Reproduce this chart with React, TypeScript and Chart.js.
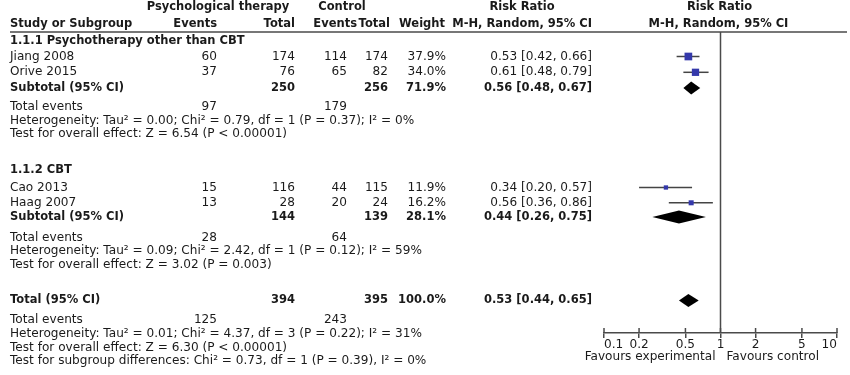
import { useEffect, useRef } from 'react';
import { Chart, registerables } from 'chart.js';

Chart.register(...registerables);

// ---------- data ----------
const studies = ['Jiang 2008', 'Orive 2015', 'Cao 2013', 'Haag 2007'];
const expEvents = [60, 37, 15, 13];
const expTotal = [174, 76, 116, 28];
const ctrlEvents = [114, 65, 44, 20];
const ctrlTotal = [174, 82, 115, 24];
const weights = [37.9, 34.0, 11.9, 16.2];
const rr = [0.53, 0.61, 0.34, 0.56];
const ciLow = [0.42, 0.48, 0.2, 0.36];
const ciHigh = [0.66, 0.79, 0.57, 0.86];

const groupNames = ['1.1.1 Psychotherapy other than CBT', '1.1.2 CBT'];
const groupExpTotal = [250, 144];
const groupCtrlTotal = [256, 139];
const groupWeight = [71.9, 28.1];
const groupRR = [0.56, 0.44];
const groupLow = [0.48, 0.26];
const groupHigh = [0.67, 0.75];
const groupExpEvents = [97, 28];
const groupCtrlEvents = [179, 64];
const groupHet = [
  'Heterogeneity: Tau² = 0.00; Chi² = 0.79, df = 1 (P = 0.37); I² = 0%',
  'Heterogeneity: Tau² = 0.09; Chi² = 2.42, df = 1 (P = 0.12); I² = 59%',
];
const groupTest = [
  'Test for overall effect: Z = 6.54 (P < 0.00001)',
  'Test for overall effect: Z = 3.02 (P = 0.003)',
];

const totalExpTotal = 394;
const totalCtrlTotal = 395;
const totalWeight = 100.0;
const totalRR = 0.53;
const totalLow = 0.44;
const totalHigh = 0.65;
const totalExpEvents = 125;
const totalCtrlEvents = 243;
const totalHet = 'Heterogeneity: Tau² = 0.01; Chi² = 4.37, df = 3 (P = 0.22); I² = 31%';
const totalTest = 'Test for overall effect: Z = 6.30 (P < 0.00001)';
const subgroupTest = 'Test for subgroup differences: Chi² = 0.73, df = 1 (P = 0.39), I² = 0%';

const tickValues = [0.1, 0.2, 0.5, 1, 2, 5, 10];
const tickLabels = ['0.1', '0.2', '0.5', '1', '2', '5', '10'];

// ---------- layout (rows in px below header rule) ----------
const ROW = {
  header1: -25,
  header2: -8,
  heading: [9, 138],
  study: [24.5, 40.3, 155.5, 170.8],
  subtotal: [56, 185],
  events: [74.7, 205.7],
  het: [88.5, 218.8],
  test: [102, 233],
  total: 268.5,
  totalEvents: 288,
  totalHet: 302,
  totalTest: 316,
  subgroup: 329,
};
const COL = { label: 10, expEv: 217, expTot: 295, ctlEv: 347, ctlTot: 388, weight: 446, ci: 592 };
const FONT_FAMILY = '"DejaVu Sans", sans-serif';
const FS = 12.1;
const FSB = 11.5;
const NORMAL = `${FS}px ${FONT_FAMILY}`;
const BOLD = `bold ${FSB}px ${FONT_FAMILY}`;
const TEXT = '#1a1a1a';
const LINE = '#4a4a4a';
const SQUARE = '#3438aa';
const DIAMOND_HALF = 6.5;

const fmtCI = (r: number, l: number, h: number) => `${r.toFixed(2)} [${l.toFixed(2)}, ${h.toFixed(2)}]`;
const fmtW = (w: number) => `${w.toFixed(1)}%`;

const forestPlugin = {
  id: 'forest',
  afterDraw(chart: any) {
    const { ctx, chartArea, scales } = chart;
    const x = scales.x;
    const y = scales.y;
    const py = (v: number) => y.getPixelForValue(v);
    const text = (s: string, px: number, v: number, align: CanvasTextAlign, bold = false) => {
      ctx.font = bold ? BOLD : NORMAL;
      ctx.textAlign = align;
      ctx.fillStyle = TEXT;
      ctx.textBaseline = 'middle';
      ctx.fillText(s, px, py(v));
    };
    ctx.save();

    // header rule
    ctx.strokeStyle = LINE;
    ctx.lineWidth = 1.5;
    ctx.beginPath();
    ctx.moveTo(10, chartArea.top);
    ctx.lineTo(847, chartArea.top);
    ctx.stroke();

    // null line
    const x1 = x.getPixelForValue(1);
    ctx.beginPath();
    ctx.moveTo(x1, chartArea.top);
    ctx.lineTo(x1, chartArea.bottom);
    ctx.stroke();

    // upper halves of tick marks
    x.ticks.forEach((t: any) => {
      const tx = x.getPixelForValue(t.value);
      ctx.beginPath();
      ctx.moveTo(tx, chartArea.bottom - 5);
      ctx.lineTo(tx, chartArea.bottom);
      ctx.stroke();
    });

    // headers
    text('Psychological therapy', 218, ROW.header1, 'center', true);
    text('Control', 342, ROW.header1, 'center', true);
    text('Risk Ratio', 522, ROW.header1, 'center', true);
    text('Risk Ratio', x1 - 1, ROW.header1, 'center', true);
    text('Study or Subgroup', COL.label, ROW.header2, 'left', true);
    text('Events', COL.expEv, ROW.header2, 'right', true);
    text('Total', COL.expTot, ROW.header2, 'right', true);
    text('Events', 357, ROW.header2, 'right', true);
    text('Total', 390, ROW.header2, 'right', true);
    text('Weight', 445, ROW.header2, 'right', true);
    text('M-H, Random, 95% CI', COL.ci, ROW.header2, 'right', true);
    text('M-H, Random, 95% CI', x1 - 2, ROW.header2, 'center', true);

    // study rows
    studies.forEach((s, i) => {
      const v = ROW.study[i];
      text(s, COL.label, v, 'left');
      text(String(expEvents[i]), COL.expEv, v, 'right');
      text(String(expTotal[i]), COL.expTot, v, 'right');
      text(String(ctrlEvents[i]), COL.ctlEv, v, 'right');
      text(String(ctrlTotal[i]), COL.ctlTot, v, 'right');
      text(fmtW(weights[i]), COL.weight, v, 'right');
      text(fmtCI(rr[i], ciLow[i], ciHigh[i]), COL.ci, v, 'right');
    });

    const diamond = (r: number, l: number, h: number, v: number) => {
      const cy = py(v);
      ctx.fillStyle = '#000';
      ctx.beginPath();
      ctx.moveTo(x.getPixelForValue(l), cy);
      ctx.lineTo(x.getPixelForValue(r), cy - DIAMOND_HALF);
      ctx.lineTo(x.getPixelForValue(h), cy);
      ctx.lineTo(x.getPixelForValue(r), cy + DIAMOND_HALF);
      ctx.closePath();
      ctx.fill();
    };

    // subgroups
    groupNames.forEach((g, i) => {
      text(g, COL.label, ROW.heading[i], 'left', true);
      const v = ROW.subtotal[i];
      text('Subtotal (95% CI)', COL.label, v, 'left', true);
      text(String(groupExpTotal[i]), COL.expTot, v, 'right', true);
      text(String(groupCtrlTotal[i]), COL.ctlTot, v, 'right', true);
      text(fmtW(groupWeight[i]), COL.weight, v, 'right', true);
      text(fmtCI(groupRR[i], groupLow[i], groupHigh[i]), COL.ci, v, 'right', true);
      diamond(groupRR[i], groupLow[i], groupHigh[i], v);
      text('Total events', COL.label, ROW.events[i], 'left');
      text(String(groupExpEvents[i]), COL.expEv, ROW.events[i], 'right');
      text(String(groupCtrlEvents[i]), COL.ctlEv, ROW.events[i], 'right');
      text(groupHet[i], COL.label, ROW.het[i], 'left');
      text(groupTest[i], COL.label, ROW.test[i], 'left');
    });

    // total
    text('Total (95% CI)', COL.label, ROW.total, 'left', true);
    text(String(totalExpTotal), COL.expTot, ROW.total, 'right', true);
    text(String(totalCtrlTotal), COL.ctlTot, ROW.total, 'right', true);
    text(fmtW(totalWeight), COL.weight, ROW.total, 'right', true);
    text(fmtCI(totalRR, totalLow, totalHigh), COL.ci, ROW.total, 'right', true);
    diamond(totalRR, totalLow, totalHigh, ROW.total);
    text('Total events', COL.label, ROW.totalEvents, 'left');
    text(String(totalExpEvents), COL.expEv, ROW.totalEvents, 'right');
    text(String(totalCtrlEvents), COL.ctlEv, ROW.totalEvents, 'right');
    text(totalHet, COL.label, ROW.totalHet, 'left');
    text(totalTest, COL.label, ROW.totalTest, 'left');
    text(subgroupTest, COL.label, ROW.subgroup, 'left');

    // favours labels
    ctx.font = NORMAL;
    ctx.fillStyle = TEXT;
    ctx.textBaseline = 'middle';
    ctx.textAlign = 'right';
    ctx.fillText('Favours experimental', x1 - 5, chartArea.bottom + 24);
    ctx.textAlign = 'left';
    ctx.fillText('Favours control', x1 + 6, chartArea.bottom + 24);

    ctx.restore();
  },
};

export default function App() {
  const ref = useRef<HTMLCanvasElement>(null);
  useEffect(() => {
    const whiskers = studies.map((_, i) => ({
      type: 'scatter' as const,
      data: [
        { x: ciLow[i], y: ROW.study[i] },
        { x: ciHigh[i], y: ROW.study[i] },
      ],
      showLine: true,
      borderColor: '#444',
      borderWidth: 1.5,
      pointRadius: 0,
      order: 2,
    }));
    const squares = {
      type: 'scatter' as const,
      data: studies.map((_, i) => ({ x: rr[i], y: ROW.study[i] })),
      pointStyle: 'rect',
      pointRadius: weights.map((w) => (1.25 * Math.sqrt(w)) / Math.SQRT2),
      backgroundColor: SQUARE,
      borderWidth: 0,
      order: 1,
    };
    const chart = new Chart(ref.current!, {
      type: 'scatter',
      data: { datasets: [squares, ...whiskers] as any },
      options: {
        animation: false,
        responsive: true,
        maintainAspectRatio: false,
        layout: { padding: { left: 604, right: 13, top: 32, bottom: 0 } },
        plugins: { legend: { display: false }, tooltip: { enabled: false } },
        scales: {
          x: {
            type: 'logarithmic',
            min: 0.1,
            max: 10,
            afterBuildTicks: (scale: any) => {
              scale.ticks = tickValues.map((v) => ({ value: v }));
            },
            afterFit: (scale: any) => {
              scale.height = 42;
            },
            ticks: {
              autoSkip: false,
              maxRotation: 0,
              align: 'inner',
              padding: 0,
              color: TEXT,
              font: { family: FONT_FAMILY, size: FS },
              callback: (_v: any, i: number) => tickLabels[i],
            },
            grid: { display: true, drawOnChartArea: false, drawTicks: true, tickLength: 5, color: LINE, lineWidth: 1.5 },
            border: { display: true, color: LINE, width: 1.5 },
          },
          y: {
            type: 'linear',
            display: false,
            reverse: true,
            min: 0,
            max: 301,
          },
        },
      } as any,
      plugins: [forestPlugin],
    });
    return () => chart.destroy();
  }, []);
  return (
    <div style={{ position: 'absolute', left: 0, top: 0, width: 850, height: 375 }}>
      <canvas ref={ref} />
    </div>
  );
}
